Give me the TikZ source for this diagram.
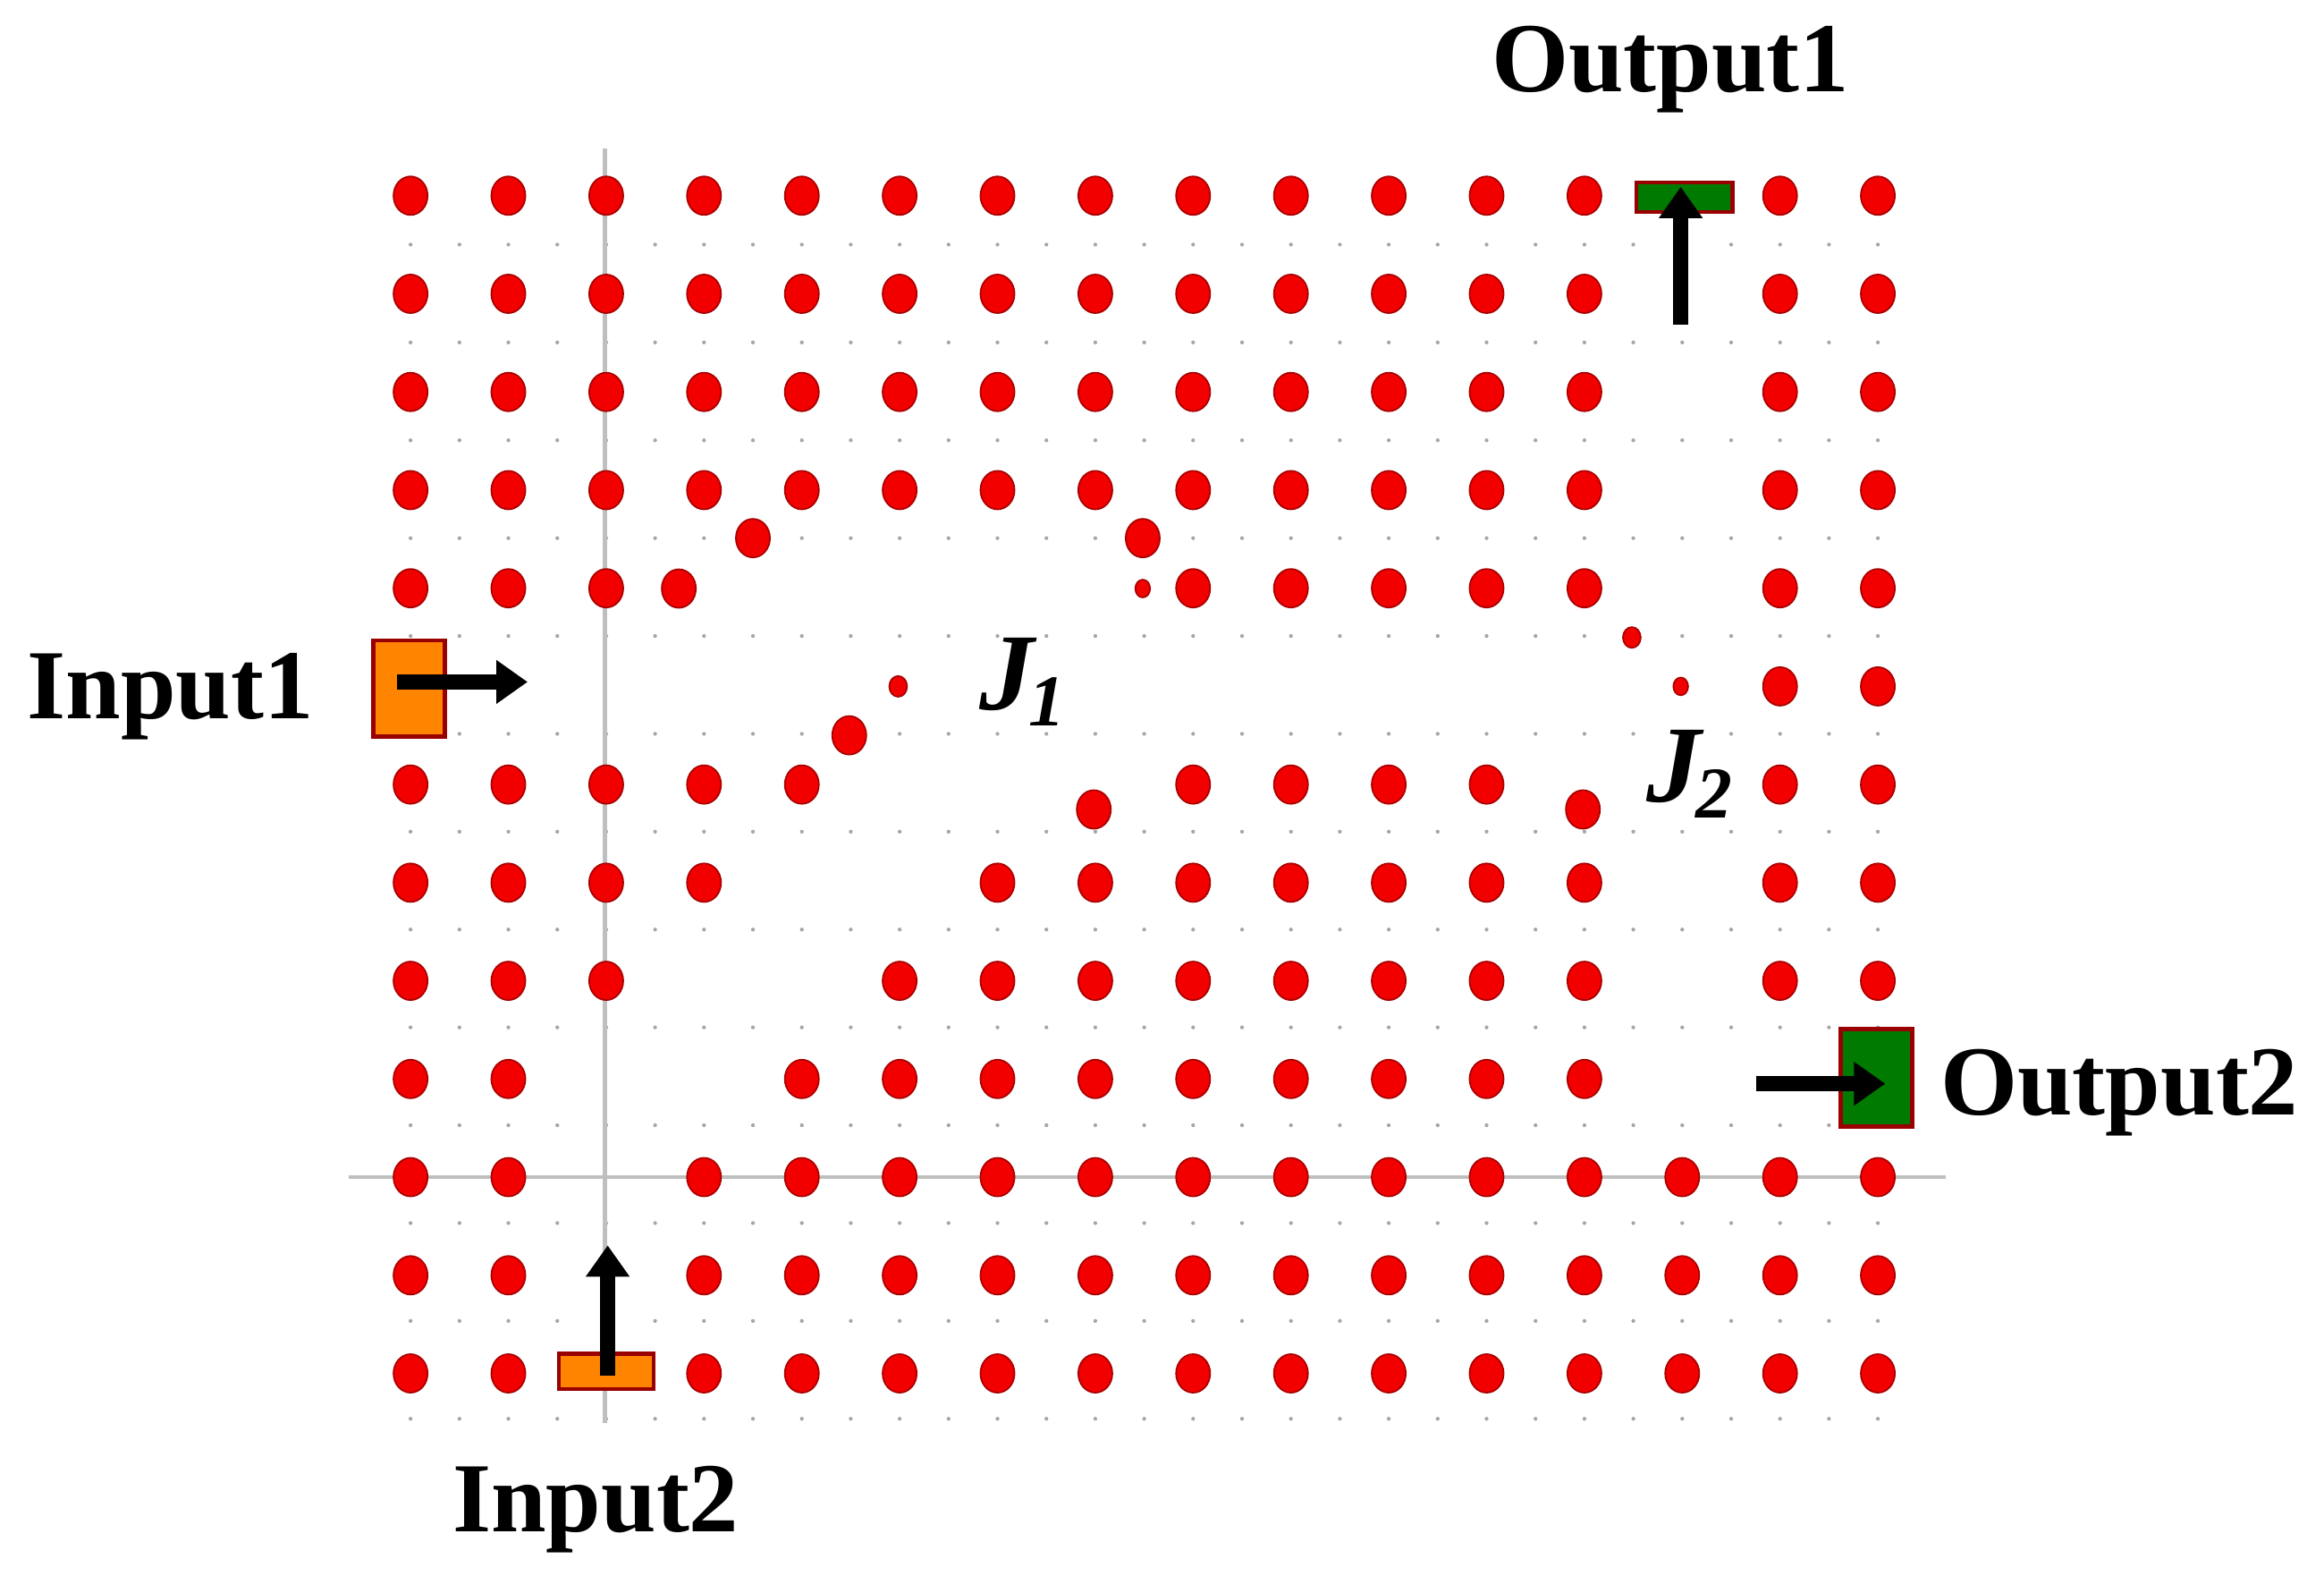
\documentclass[tikz,border=0pt]{standalone}
\usepackage{fontspec}
\setmainfont{Liberation Serif}
\usetikzlibrary{arrows.meta}
\definecolor{dotred}{HTML}{F20000}
\definecolor{portor}{HTML}{FF8400}
\definecolor{portgr}{HTML}{007A00}
\begin{document}
\begin{tikzpicture}[x=0.01cm,y=-0.01cm,
  rod/.style={fill=dotred,draw=dotred!70!black,line width=0.3pt},
  gdot/.style={fill=gray!70},
  port/.style={draw=red!60!black,line width=0.8pt},
  flow/.style={line width=3pt,-{Triangle[length=6pt,width=8pt]}},
  lab/.style={font=\fontsize{19}{22}\selectfont\bfseries}]
\useasboundingbox (0,0) rectangle (1568,1074);
% gray grid marks
\foreach \r in {0,...,12}{
  \foreach \c in {0,...,30}{
    \fill[gdot] ({277+33*\c},{132+66*\r+33}) circle (1.3);
  }}
% axes
\draw[gray!50,line width=0.8pt] (408,100) -- (408,960);
\draw[gray!50,line width=0.8pt] (235,794) -- (1313,794);
% rods on grid
\foreach \r/\cols in {
 0/{0,1,2,3,4,5,6,7,8,9,10,11,12,14,15},
 1/{0,1,2,3,4,5,6,7,8,9,10,11,12,14,15},
 2/{0,1,2,3,4,5,6,7,8,9,10,11,12,14,15},
 3/{0,1,2,3,4,5,6,7,8,9,10,11,12,14,15},
 4/{0,1,2,8,9,10,11,12,14,15},
 5/{14,15},
 6/{0,1,2,3,4,8,9,10,11,14,15},
 7/{0,1,2,3,6,7,8,9,10,11,12,14,15},
 8/{0,1,2,5,6,7,8,9,10,11,12,14,15},
 9/{0,1,4,5,6,7,8,9,10,11,12},
 10/{0,1,3,4,5,6,7,8,9,10,11,12,13,14,15},
 11/{0,1,3,4,5,6,7,8,9,10,11,12,13,14,15},
 12/{0,1,3,4,5,6,7,8,9,10,11,12,13,14,15}}{
  \foreach \c in \cols {
    \fill[rod] ({277+66*\c},{132+66.2*\r}) ellipse [x radius=11.5, y radius=13];
  }}
% displaced rods
\foreach \x/\y/\a/\b in {458/397/11.5/13, 508/363/11.5/13, 771/363/11.5/13, 771/397/5/6,
  1101/430/6/7, 606/463/6/7, 1134/463/5/6, 573/496/11.5/13, 738/546/11.5/13, 1068/546/11.5/13}{
  \fill[rod] (\x,\y) ellipse [x radius=\a, y radius=\b];
}
% ports
\draw[port,fill=portor] (252,432) rectangle (300,497);
\draw[port,fill=portor] (377,913) rectangle (441,937);
\draw[port,fill=portgr] (1104,123) rectangle (1169,143);
\draw[port,fill=portgr] (1242,694) rectangle (1290,760);
% arrows
\coordinate (i1a) at (268,460); \coordinate (i1b) at (356,460);
\coordinate (i2a) at (410,928); \coordinate (i2b) at (410,840);
\coordinate (o1a) at (1134,219); \coordinate (o1b) at (1134,126);
\coordinate (o2a) at (1185,731); \coordinate (o2b) at (1272,731);
\draw[flow] (i1a) -- (i1b);
\draw[flow] (i2a) -- (i2b);
\draw[flow] (o1a) -- (o1b);
\draw[flow] (o2a) -- (o2b);
% labels
\node[lab] (in1) at (115,470) {Input1};
\node[lab] (in2) at (402,1018) {Input2};
\node[lab] (out1) at (1127,47) {Output1};
\node[lab] (out2) at (1430,737) {Output2};
\node[font=\fontsize{21}{24}\selectfont\itshape\bfseries] (j1) at (690,460) {J\kern-1pt\raisebox{-3pt}{\fontsize{14}{15}\selectfont 1}};
\node[font=\fontsize{21}{24}\selectfont\itshape\bfseries] (j2) at (1140,522) {J\kern-1pt\raisebox{-3pt}{\fontsize{14}{15}\selectfont 2}};
\end{tikzpicture}
\end{document}
